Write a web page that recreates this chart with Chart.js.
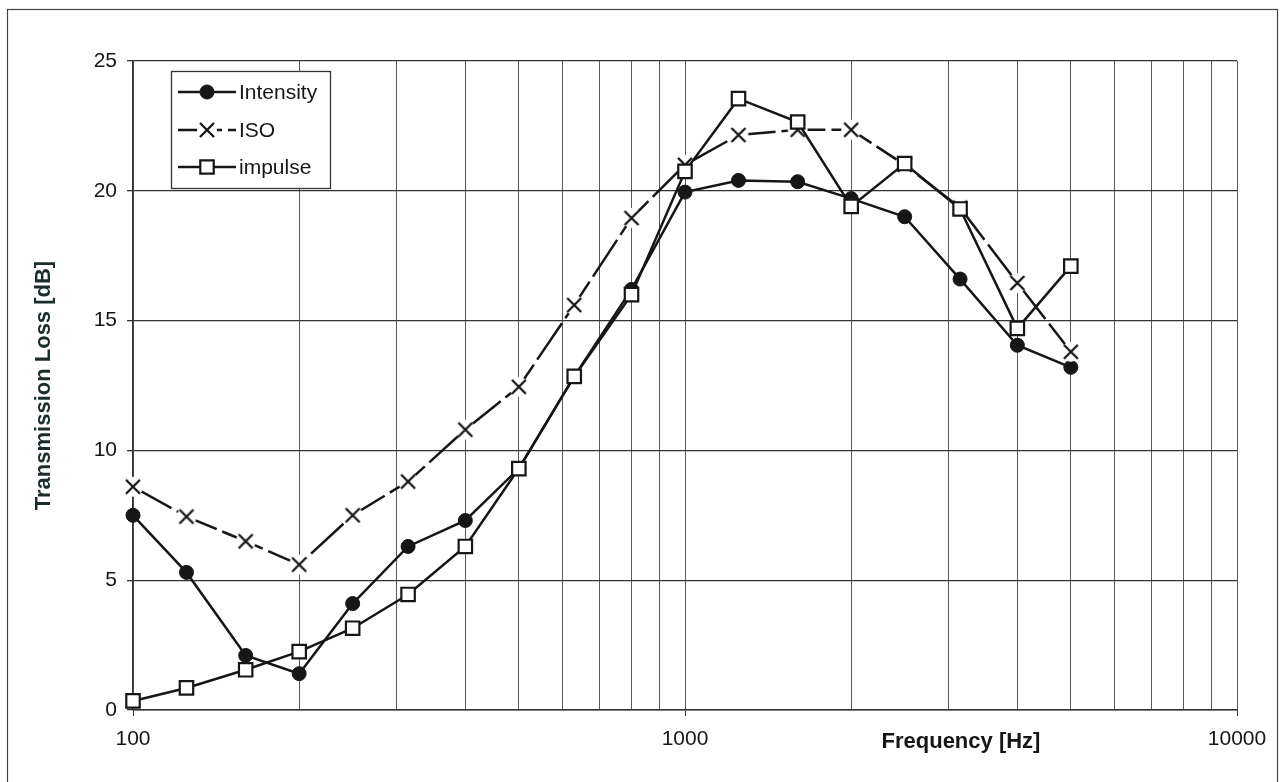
<!DOCTYPE html>
<html>
<head>
<meta charset="utf-8">
<title>Transmission Loss</title>
<script src="https://cdn.jsdelivr.net/npm/chart.js@4.4.1/dist/chart.umd.min.js"></script>
<style>
    html, body { margin: 0; padding: 0; background: #fff; }
    canvas { display: block; }
</style>
</head>
<body>
<canvas id="tl-chart" width="1284" height="782"></canvas>
<script>
"use strict";

// third-octave band centre frequencies [Hz]
var freqs = [100, 125, 160, 200, 250, 315, 400, 500, 630, 800, 1000, 1250, 1600, 2000, 2500, 3150, 4000, 5000];

// transmission loss [dB] per method
var intensityTL = [7.5, 5.3, 2.1, 1.4, 4.1, 6.3, 7.3, 9.3, 12.85, 16.2, 19.95, 20.4, 20.35, 19.7, 19.0, 16.6, 14.05, 13.2];
var isoTL = [8.6, 7.45, 6.5, 5.6, 7.5, 8.8, 10.8, 12.45, 15.6, 18.95, 21.0, 22.15, 22.35, 22.35, 21.0, 19.35, 16.45, 13.8];
var impulseTL = [0.35, 0.85, 1.55, 2.25, 3.15, 4.45, 6.3, 9.3, 12.85, 16.0, 20.75, 23.55, 22.65, 19.4, 21.05, 19.3, 14.7, 17.1];

var seriesNames = ["Intensity", "ISO", "impulse"];
var yTicks = [0, 5, 10, 15, 20, 25];
var xLabels = [100, 1000, 10000];

var ink = "#161616";
var fontName = "'Liberation Sans', Arial, sans-serif";

function toPoints(vals) {
    return freqs.map(function(f, i) {
        return { x: f, y: vals[i] };
    });
}

// x marker with a white halo so the line stops short of it
function makeCross() {
    var c = document.createElement('canvas');
    c.width = 26;
    c.height = 26;
    var g = c.getContext('2d');
    g.fillStyle = '#fff';
    g.beginPath();
    g.arc(13, 13, 10, 0, Math.PI * 2);
    g.fill();
    g.strokeStyle = ink;
    g.lineWidth = 2.3;
    g.beginPath();
    g.moveTo(6, 6); g.lineTo(20, 20);
    g.moveTo(20, 6); g.lineTo(6, 20);
    g.stroke();
    return c;
}
var crossMark = makeCross();

// log grid: 100..900, 1000..9000, 10000
var gridVals = [];
[100, 1000].forEach(function(dec) {
    for (var k = 1; k < 10; k++) gridVals.push(dec * k);
});
gridVals.push(10000);

function isLabelled(v) {
    return xLabels.indexOf(v) !== -1;
}

var framePlugin = {
    id: 'frame',
    beforeDraw: function(chart) {
        var ctx = chart.ctx;
        ctx.save();
        ctx.fillStyle = '#fff';
        ctx.fillRect(0, 0, chart.width, chart.height);
        ctx.strokeStyle = '#444';
        ctx.lineWidth = 1.2;
        ctx.strokeRect(7.5, 9.5, 1270, 800);
        ctx.restore();
    }
};

var titlesPlugin = {
    id: 'axisTitles',
    afterDraw: function(chart) {
        var ctx = chart.ctx;
        var area = chart.chartArea;
        ctx.save();
        ctx.fillStyle = ink;
        ctx.font = "bold 22px " + fontName;
        ctx.textAlign = 'center';
        ctx.textBaseline = 'middle';
        // frequency title sits on the tick label row, centred in the upper decade
        ctx.fillText("Frequency [Hz]", chart.scales.x.getPixelForValue(3162), 742);
        ctx.translate(44, (area.top + area.bottom) / 2);
        ctx.rotate(-Math.PI / 2);
        ctx.fillStyle = '#1c2b2b';
        ctx.fillText("Transmission Loss [dB]", 0, 0);
        ctx.restore();
    }
};

var legendPlugin = {
    id: 'boxLegend',
    afterDatasetsDraw: function(chart) {
        var ctx = chart.ctx;
        var bx = 171, by = 71, bw = 159, bh = 117;
        var rows = [92, 130, 167];
        ctx.save();
        ctx.fillStyle = '#fff';
        ctx.fillRect(bx, by, bw, bh);
        ctx.strokeStyle = '#333';
        ctx.lineWidth = 1.3;
        ctx.strokeRect(bx + 0.5, by + 0.5, bw, bh);
        ctx.font = "21px " + fontName;
        ctx.textBaseline = 'middle';
        chart.data.datasets.forEach(function(ds, i) {
            var y = rows[i];
            ctx.strokeStyle = ds.borderColor;
            ctx.lineWidth = ds.borderWidth;
            ctx.setLineDash(ds.borderDash || []);
            ctx.beginPath();
            ctx.moveTo(178, y);
            ctx.lineTo(236, y);
            ctx.stroke();
            ctx.setLineDash([]);
            ctx.fillStyle = ds.pointBackgroundColor;
            ctx.strokeStyle = ds.pointBorderColor;
            ctx.lineWidth = ds.pointBorderWidth;
            Chart.helpers.drawPoint(ctx, {
                pointStyle: ds.pointStyle,
                radius: ds.pointRadius,
                rotation: 0,
                borderWidth: ds.pointBorderWidth
            }, 207, y);
            ctx.fillStyle = ink;
            ctx.fillText(ds.label, 239, y + 1);
        });
        ctx.restore();
    }
};

var lineData = {
    datasets: [{
        label: seriesNames[0],
        data: toPoints(intensityTL),
        borderColor: ink,
        borderWidth: 2.5,
        pointStyle: 'circle',
        pointRadius: 7,
        pointBackgroundColor: ink,
        pointBorderColor: ink,
        pointBorderWidth: 1,
        clip: false,
        order: 3
    }, {
        label: seriesNames[1],
        data: toPoints(isoTL),
        borderColor: ink,
        borderWidth: 2.5,
        borderDash: [44, 6],
        pointStyle: crossMark,
        pointRadius: 8,
        pointBackgroundColor: '#fff',
        pointBorderColor: ink,
        pointBorderWidth: 2,
        clip: false,
        order: 2
    }, {
        label: seriesNames[2],
        data: toPoints(impulseTL),
        borderColor: ink,
        borderWidth: 2.5,
        pointStyle: 'rect',
        pointRadius: 9.5,
        pointBackgroundColor: '#fff',
        pointBorderColor: ink,
        pointBorderWidth: 2.2,
        clip: false,
        order: 1
    }]
};

new Chart(document.getElementById('tl-chart'), {
    type: 'line',
    data: lineData,
    plugins: [framePlugin, legendPlugin, titlesPlugin],
    options: {
        responsive: false,
        animation: false,
        layout: { padding: { top: 61, right: 47, left: 0, bottom: 0 } },
        plugins: {
            legend: { display: false },
            tooltip: { enabled: false }
        },
        elements: { line: { tension: 0 } },
        scales: {
            x: {
                type: 'logarithmic',
                min: 100,
                max: 10000,
                afterBuildTicks: function(scale) {
                    scale.ticks = gridVals.map(function(v) { return { value: v }; });
                },
                afterFit: function(scale) { scale.height = 72; },
                ticks: {
                    autoSkip: false,
                    maxRotation: 0,
                    padding: 11,
                    color: ink,
                    font: { family: fontName, size: 21 },
                    callback: function(v) { return isLabelled(v) ? String(v) : ''; }
                },
                grid: {
                    color: '#5a5a5a',
                    lineWidth: 1,
                    tickLength: 6,
                    tickColor: function(c) {
                        return c.tick && isLabelled(c.tick.value) ? '#333' : 'rgba(0,0,0,0)';
                    }
                },
                border: { color: '#333', width: 1.5 }
            },
            y: {
                min: 0,
                max: 25,
                afterBuildTicks: function(scale) {
                    scale.ticks = yTicks.map(function(v) { return { value: v }; });
                },
                afterFit: function(scale) { scale.width = 133; },
                ticks: {
                    padding: 10,
                    color: ink,
                    font: { family: fontName, size: 21 }
                },
                grid: {
                    color: '#333',
                    lineWidth: 1.3,
                    tickLength: 6,
                    tickColor: '#333'
                },
                border: { color: '#333', width: 1.5 }
            }
        }
    }
});
</script>
</body>
</html>
